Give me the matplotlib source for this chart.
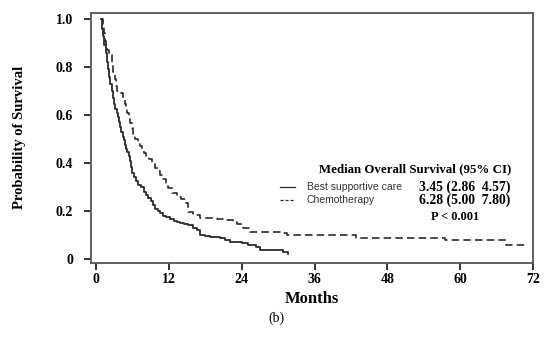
import matplotlib
matplotlib.use('Agg')
import matplotlib.pyplot as plt

# Kaplan-Meier step points (months, survival probability)
bsc_months = [0.8, 1.0, 1.2, 1.4, 1.6, 1.8, 2.0, 2.2, 2.4, 2.6, 2.8, 3.0, 3.2, 3.4, 3.6,
              3.8, 4.0, 4.2, 4.4, 4.6, 4.8, 5.0, 5.2, 5.4, 5.6, 5.8, 6.0, 6.2, 6.6, 7.0,
              7.5, 8.0, 8.3, 8.6, 9.0, 9.4, 9.8, 10.2, 10.6, 11.0, 11.5, 12.2, 12.8,
              13.3, 13.8, 14.5, 15.2, 16.0, 16.6, 17.1, 18.0, 18.8, 20.4, 21.2, 22.0,
              24.0, 25.0, 26.4, 27.0, 30.8, 31.6]
bsc_surv = [1.0, 0.96, 0.93, 0.89, 0.86, 0.82, 0.79, 0.76, 0.73, 0.70, 0.67, 0.645,
            0.625, 0.61, 0.59, 0.57, 0.55, 0.53, 0.51, 0.495, 0.475, 0.46, 0.445, 0.43,
            0.41, 0.385, 0.36, 0.34, 0.325, 0.31, 0.30, 0.28, 0.265, 0.255, 0.24, 0.225,
            0.21, 0.20, 0.19, 0.18, 0.175, 0.165, 0.16, 0.155, 0.15, 0.145, 0.14, 0.13,
            0.12, 0.10, 0.097, 0.093, 0.087, 0.08, 0.072, 0.065, 0.06, 0.051, 0.037,
            0.03, 0.02]

chemo_months = [0.9, 1.1, 1.3, 1.5, 1.7, 1.9, 2.1, 2.4, 2.7, 2.9, 3.1, 3.3, 3.45, 4.2,
                4.5, 4.8, 5.0, 5.2, 5.4, 5.6, 5.9, 6.1, 6.5, 7.0, 7.2, 7.6, 8.0, 8.3,
                8.7, 9.2, 9.7, 10.2, 10.6, 11.1, 11.5, 11.9, 12.5, 13.3, 14.0, 14.9,
                15.2, 16.0, 17.1, 20.0, 21.5, 22.5, 23.2, 24.2, 25.3, 30.8, 31.4, 42.9,
                57.4, 67.5, 70.8]
chemo_surv = [1.0, 0.97, 0.94, 0.91, 0.89, 0.87, 0.86, 0.85, 0.81, 0.78, 0.75, 0.72,
              0.70, 0.69, 0.665, 0.645, 0.63, 0.61, 0.59, 0.565, 0.545, 0.52, 0.50,
              0.485, 0.47, 0.455, 0.44, 0.43, 0.415, 0.40, 0.38, 0.365, 0.35, 0.335,
              0.315, 0.295, 0.275, 0.26, 0.25, 0.233, 0.197, 0.185, 0.17, 0.165, 0.163,
              0.155, 0.145, 0.13, 0.114, 0.108, 0.10, 0.086, 0.079, 0.058, 0.058]

x_ticks = [0, 12, 24, 36, 48, 60, 72]
y_ticks = [0, 0.2, 0.4, 0.6, 0.8, 1.0]
y_tick_labels = ['0', '0.2', '0.4', '0.6', '0.8', '1.0']

serif = 'Liberation Serif'
sans = 'Liberation Sans'
line_col = '#2b2b2b'
spine_col = '#555555'

fig = plt.figure(figsize=(5.5, 3.46), dpi=100)
ax = fig.add_axes([0.1655, 0.2399, 0.804, 0.7234])

ax.plot(bsc_months, bsc_surv, drawstyle='steps-post', color=line_col, lw=1.3)
ax.plot(chemo_months, chemo_surv, drawstyle='steps-post', color=line_col, lw=1.2,
        dashes=(4.5, 2.5))

ax.set_xlim(-0.8, 72)
ax.set_ylim(-0.017, 1.026)
ax.set_xticks(x_ticks)
ax.set_yticks(y_ticks)
ax.set_yticklabels(y_tick_labels)
ax.tick_params(direction='out', length=5, width=1.3, color='#222222', pad=8)
ax.tick_params(axis='x', pad=2)
for lab in ax.get_xticklabels() + ax.get_yticklabels():
    lab.set_fontfamily(serif)
    lab.set_fontweight('bold')
    lab.set_fontsize(10)
for sp in ax.spines.values():
    sp.set_color(spine_col)
    sp.set_linewidth(1.3)

ax.set_xlabel('Months', fontfamily=serif, fontweight='bold', fontsize=12, labelpad=4)
ax.set_ylabel('Probability of Survival', fontfamily=serif, fontweight='bold',
              fontsize=10.5, labelpad=21)

# Legend and median survival table
ax.text(0.733, 0.374, 'Median Overall Survival (95% CI)', transform=ax.transAxes,
        ha='center', va='center', fontfamily=serif, fontweight='bold', fontsize=9.3)
ax.plot([0.428, 0.462], [0.302, 0.302], transform=ax.transAxes, color=line_col, lw=0.9)
ax.plot([0.428, 0.462], [0.252, 0.252], transform=ax.transAxes, color=line_col, lw=0.9,
        dashes=(2.5, 1.5))
ax.text(0.488, 0.302, 'Best supportive care', transform=ax.transAxes, ha='left',
        va='center', fontfamily=sans, fontsize=7.5, color='#333333')
ax.text(0.488, 0.252, 'Chemotherapy', transform=ax.transAxes, ha='left',
        va='center', fontfamily=sans, fontsize=7.5, color='#333333')
ax.text(0.742, 0.302, '3.45 (2.86  4.57)', transform=ax.transAxes, ha='left',
        va='center', fontfamily=serif, fontweight='bold', fontsize=9.8)
ax.text(0.742, 0.252, '6.28 (5.00  7.80)', transform=ax.transAxes, ha='left',
        va='center', fontfamily=serif, fontweight='bold', fontsize=9.8)
ax.text(0.823, 0.185, 'P < 0.001', transform=ax.transAxes, ha='center',
        va='center', fontfamily=serif, fontweight='bold', fontsize=9)

fig.text(276 / 550, 1 - 318 / 346, '(b)', ha='center', va='center',
         fontfamily=serif, fontsize=10)

fig.savefig('out.png', dpi=100, facecolor='white')
